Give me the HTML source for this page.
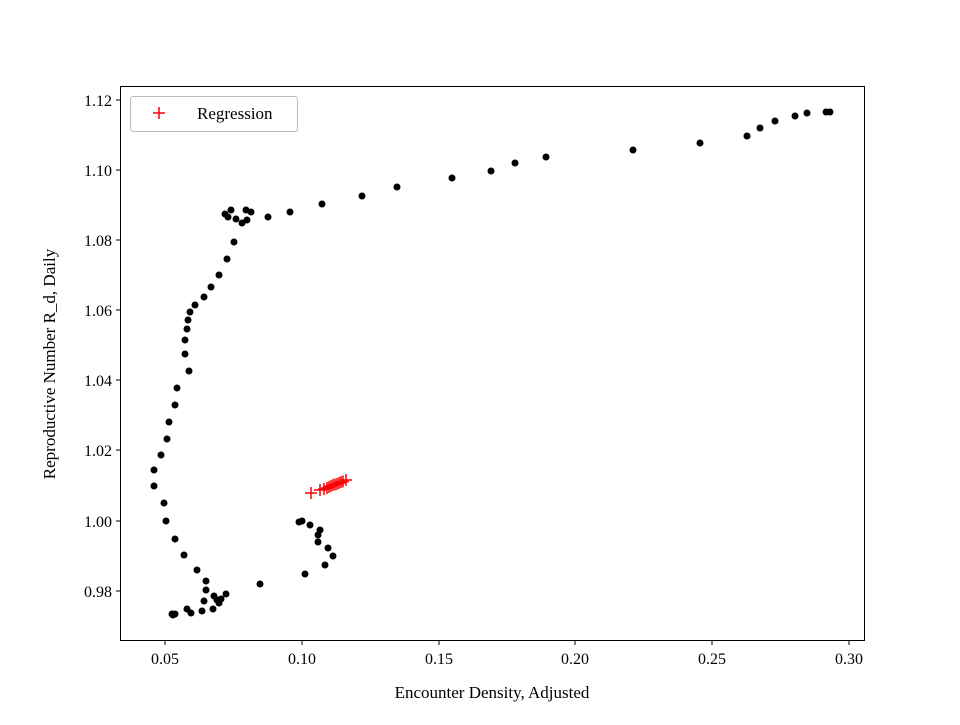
<!DOCTYPE html>
<html><head><meta charset="utf-8"><style>
body{margin:0;background:#fff}
svg text{font-family:"Liberation Serif",serif;fill:#000}
</style></head><body>
<svg width="960" height="720" xmlns="http://www.w3.org/2000/svg">
<rect width="960" height="720" fill="#fff"/>
<rect x="120.5" y="86.5" width="744" height="554" fill="none" stroke="#000" stroke-width="1"/>
<g stroke="#000" stroke-width="1">
<line x1="165" y1="641" x2="165" y2="645"/><line x1="302" y1="641" x2="302" y2="645"/><line x1="439" y1="641" x2="439" y2="645"/><line x1="575" y1="641" x2="575" y2="645"/><line x1="712" y1="641" x2="712" y2="645"/><line x1="849" y1="641" x2="849" y2="645"/>
<line x1="116" y1="100" x2="120" y2="100"/><line x1="116" y1="170" x2="120" y2="170"/><line x1="116" y1="240" x2="120" y2="240"/><line x1="116" y1="310" x2="120" y2="310"/><line x1="116" y1="380" x2="120" y2="380"/><line x1="116" y1="450" x2="120" y2="450"/><line x1="116" y1="521" x2="120" y2="521"/><line x1="116" y1="591" x2="120" y2="591"/>
</g>
<g font-size="16" text-anchor="middle">
<text x="165" y="664">0.05</text><text x="302" y="664">0.10</text><text x="439" y="664">0.15</text><text x="575" y="664">0.20</text><text x="712" y="664">0.25</text><text x="849" y="664">0.30</text>
</g>
<g font-size="16" text-anchor="end">
<text x="112" y="106">1.12</text><text x="112" y="176">1.10</text><text x="112" y="246">1.08</text><text x="112" y="316">1.06</text><text x="112" y="386">1.04</text><text x="112" y="456">1.02</text><text x="112" y="527">1.00</text><text x="112" y="597">0.98</text>
</g>
<text x="492" y="698" font-size="17" text-anchor="middle">Encounter Density, Adjusted</text>
<text transform="translate(55,364) rotate(-90)" font-size="17" text-anchor="middle">Reproductive Number R_d, Daily</text>
<g id="dots" fill="#000"></g>
<g id="plus" stroke="#f00" stroke-width="1.5"></g>
<rect x="130.5" y="96.5" width="167" height="35" rx="3" fill="#fff" stroke="#bbb"/>
<g stroke="#f00" stroke-width="1.5"><line x1="153" y1="113" x2="165" y2="113"/><line x1="159" y1="107" x2="159" y2="119"/></g>
<text x="197" y="119" font-size="17">Regression</text>
</svg>
<script>
var d=[[173,615],[175,614],[172,614],[187,609],[191,613],[202,611],[204,601],[206,590],[214,596],[213,609],[219,603],[217,600],[221,599],[226,594],[260,584],[197,570],[206,581],[184,555],[175,539],[166,521],[164,503],[154,486],[154,470],[161,455],[167,439],[169,422],[175,405],[177,388],[189,371],[185,354],[185,340],[187,329],[188,320],[190,312],[195,305],[204,297],[211,287],[219,275],[227,259],[234,242],[236,219],[242,223],[247,220],[246,210],[251,212],[231,210],[225,214],[228,217],[268,217],[290,212],[322,204],[362,196],[397,187],[452,178],[491,171],[515,163],[546,157],[633,150],[700,143],[747,136],[760,128],[775,121],[795,116],[807,113],[826,112],[830,112],[299,522],[302,521],[310,525],[320,530],[318,535],[318,542],[328,548],[333,556],[325,565],[305,574]];
var s='';d.forEach(function(p){s+='<circle cx="'+p[0]+'" cy="'+p[1]+'" r="3.5"/>';});
document.getElementById('dots').innerHTML=s;
var pl=[[311,493],[320,490],[324,489],[327,488],[329,487],[331,486],[333,485],[335,484.5],[337,484],[339,483],[341,482],[343,481.5],[346,480]];
var t='';pl.forEach(function(p){t+='<line x1="'+(p[0]-6)+'" y1="'+p[1]+'" x2="'+(p[0]+6)+'" y2="'+p[1]+'"/><line x1="'+p[0]+'" y1="'+(p[1]-6)+'" x2="'+p[0]+'" y2="'+(p[1]+6)+'"/>';});
document.getElementById('plus').innerHTML=t;
</script>
</body></html>
